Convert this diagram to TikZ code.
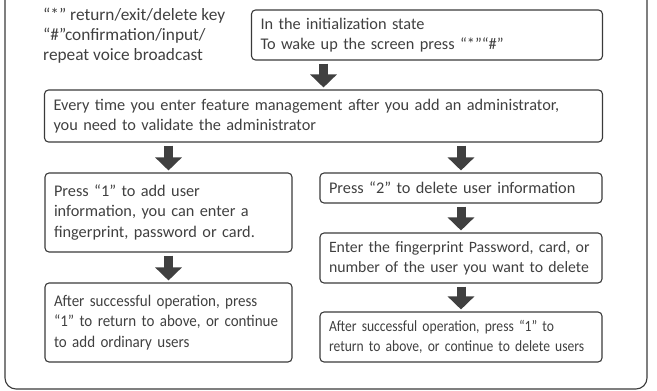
\documentclass[tikz,border=0pt]{standalone}
\usepackage{fontspec}
\setmainfont{Carlito}
\newfontfamily\condfnt[FakeStretch=0.92]{Carlito}
\newfontfamily\narrowfnt[FakeStretch=0.87]{Carlito}
\usepackage{tikz}
\usetikzlibrary{arrows.meta,calc}
\definecolor{txtgray}{HTML}{404040}
\definecolor{linegray}{HTML}{3A3A3A}
\hyphenpenalty=10000

\begin{document}
\begin{tikzpicture}[x=1pt,y=-1pt,
    box/.style={draw=linegray, line width=1.1pt, rounded corners=4pt, text=txtgray,
      align=left, inner xsep=9pt, inner ysep=0pt, anchor=center,
      font=\fontsize{16.3}{20.5}\selectfont},
    condbox/.style={box, font=\condfnt\fontsize{16.3}{20.5}\selectfont},
    narrowbox/.style={box, font=\narrowfnt\fontsize{15.6}{20}\selectfont},
    blockarrow/.style={draw=txtgray, line width=9pt, shorten <=3pt, shorten >=2pt,
      -{Triangle[width=26pt,length=13pt]}}]
          \useasboundingbox (0,0) rectangle (657,391);
          \draw[linegray, line width=1.1pt, rounded corners=11pt] (5,-15) -- (5,389) -- (647,389) -- (647,-15);

          \node[text=txtgray, align=left, anchor=north west, inner sep=0pt,
            font=\fontsize{17.3}{20}\selectfont] (Legend) at (43,8)
            {“*” return/exit/delete key\\“\#”confirmation/input/\\repeat voice broadcast};

          \node[box, text width=333pt, minimum height=50pt] (Init) at (427,35)
            {In the initialization state\\To wake up the screen press “*”“\#”};
          \node[box, text width=540pt, minimum height=52pt] (Admin) at (323.5,116)
            {Every time you enter feature management after you add an administrator,\\you need to validate the administrator};

          \node[box, text width=229pt, minimum height=79pt] (AddUser) at (168.5,212.5)
            {Press “1” to add user\\information, you can enter a\\fingerprint, password or card.};
          \node[condbox, text width=229pt, minimum height=79pt] (AddDone) at (168.5,322.5)
            {After successful operation, press\\“1” to return to above, or continue\\to add ordinary users};

          \node[box, text width=264pt, minimum height=30pt] (DelUser) at (461,188)
            {Press “2” to delete user information};
          \node[box, text width=264pt, minimum height=50pt, font=\fontsize{15.8}{20}\selectfont] (DelInput) at (461,258)
            {\mbox{Enter the fingerprint Password, card, or}\\\mbox{number of the user you want to delete}};
          \node[narrowbox, text width=264pt, minimum height=50pt] (DelDone) at (461,337)
            {\mbox{After successful operation, press “1” to}\\\mbox{return to above, or continue to delete users}};

          \draw[blockarrow] (Init.south -| Admin.north) to (Admin.north);
          \draw[blockarrow] (Admin.south -| AddUser.north) to (AddUser.north);
          \draw[blockarrow] (Admin.south -| DelUser.north) to (DelUser.north);
          \draw[blockarrow] (AddUser.south) to (AddDone.north);
          \draw[blockarrow] (DelUser.south) to (DelInput.north);
          \draw[blockarrow] (DelInput.south) to (DelDone.north);
        \end{tikzpicture}
\end{document}
